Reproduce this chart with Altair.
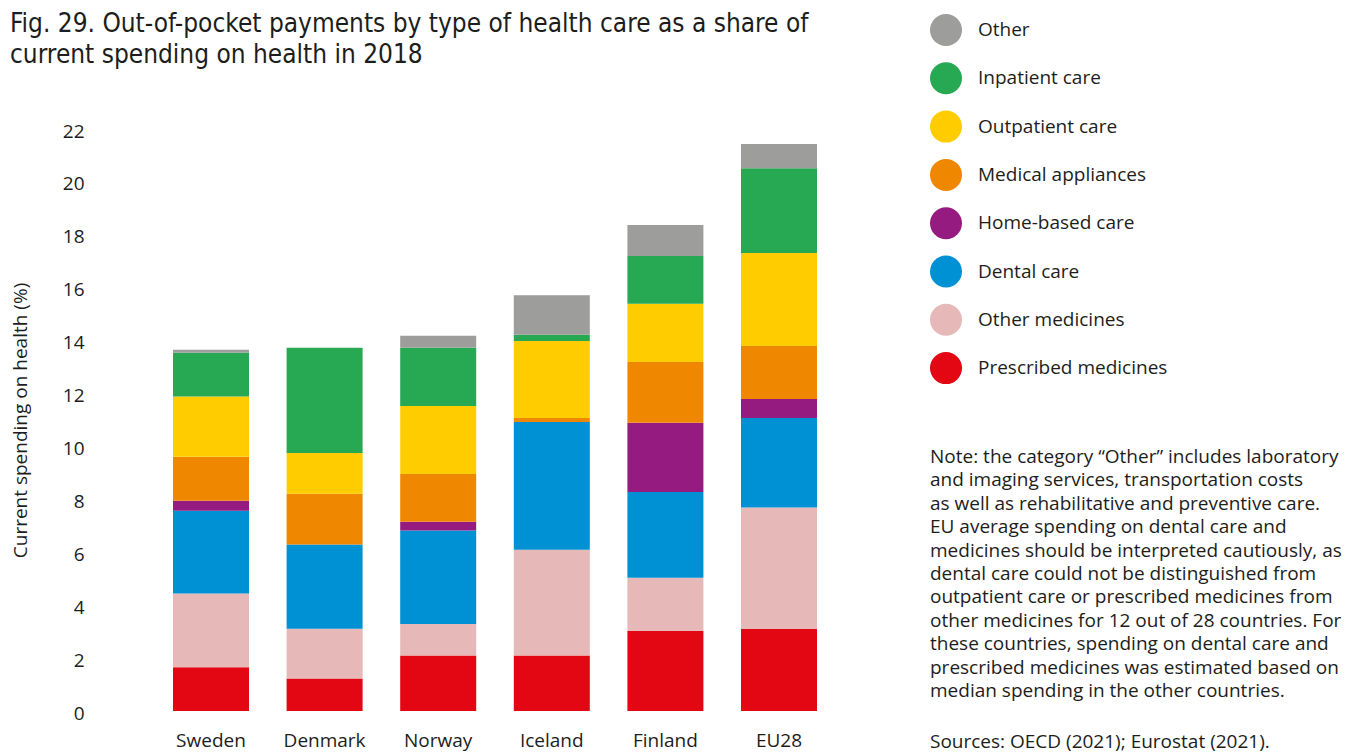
import altair as alt
import pandas as pd

countries = ["Sweden", "Denmark", "Norway", "Iceland", "Finland", "EU28"]
categories = ["Other", "Inpatient care", "Outpatient care", "Medical appliances",
              "Home-based care", "Dental care", "Other medicines", "Prescribed medicines"]
colors = ["#9D9D9C", "#27A852", "#FFCC00", "#F08700",
          "#951B81", "#0090D4", "#E6B8B7", "#E30613"]

prescribed = [1.65, 1.23, 2.10, 2.10, 3.03, 3.11]
other_medicines = [2.79, 1.88, 1.19, 4.00, 2.01, 4.58]
dental = [3.13, 3.18, 3.53, 4.82, 3.24, 3.39]
home_based = [0.38, 0.00, 0.33, 0.00, 2.62, 0.71]
appliances = [1.66, 1.92, 1.81, 0.16, 2.29, 2.01]
outpatient = [2.28, 1.54, 2.57, 2.91, 2.20, 3.51]
inpatient = [1.65, 3.98, 2.20, 0.23, 1.81, 3.21]
other = [0.12, 0.00, 0.45, 1.50, 1.17, 0.91]

title_lines = ["Fig. 29. Out-of-pocket payments by type of health care as a share of",
               "current spending on health in 2018"]
note_lines = [
    "Note: the category \u201cOther\u201d includes laboratory",
    "and imaging services, transportation costs",
    "as well as rehabilitative and preventive care.",
    "EU average spending on dental care and",
    "medicines should be interpreted cautiously, as",
    "dental care could not be distinguished from",
    "outpatient care or prescribed medicines from",
    "other medicines for 12 out of 28 countries. For",
    "these countries, spending on dental care and",
    "prescribed medicines was estimated based on",
    "median spending in the other countries.",
]
source_line = "Sources: OECD (2021); Eurostat (2021)."

series = {
    "Prescribed medicines": prescribed,
    "Other medicines": other_medicines,
    "Dental care": dental,
    "Home-based care": home_based,
    "Medical appliances": appliances,
    "Outpatient care": outpatient,
    "Inpatient care": inpatient,
    "Other": other,
}
rows = []
for k, (cat, vals) in enumerate(series.items()):
    for c, v in zip(countries, vals):
        rows.append({"country": c, "category": cat, "value": v, "stack_order": k})
df = pd.DataFrame(rows)

FONT = "Open Sans"
TITLE_FONT = "DejaVu Sans Condensed, Roboto, sans-serif"
TXT = "#1d1d1b"

bars = alt.Chart(df).mark_bar().encode(
    x=alt.X("country:N", sort=countries,
            scale=alt.Scale(paddingInner=0.331, paddingOuter=0.713),
            axis=alt.Axis(title=None, labelAngle=0, domain=False, ticks=False,
                          labelFontSize=19, labelPadding=20, labelFont=FONT,
                          labelColor=TXT)),
    y=alt.Y("value:Q", stack="zero",
            scale=alt.Scale(domain=[0, 22], nice=False),
            axis=alt.Axis(values=list(range(0, 23, 2)), grid=False, domain=False,
                          ticks=False, labelFontSize=19, labelPadding=8, labelOffset=2,
                          labelFont=FONT, labelColor=TXT,
                          title="Current spending on health (%)",
                          titleFont=FONT, titleFontSize=19, titleFontWeight="normal",
                          titleColor=TXT, titleX=-72, titleY=291, titleAngle=-90,
                          titleAlign="center", titleBaseline="middle")),
    color=alt.Color("category:N",
                    scale=alt.Scale(domain=categories, range=colors),
                    legend=alt.Legend(title=None, orient="none", legendX=838, legendY=-115,
                                      symbolType="circle", symbolSize=1024,
                                      symbolStrokeWidth=0, symbolOpacity=1,
                                      labelFontSize=19, labelFont=FONT, labelColor=TXT,
                                      labelLimit=400,
                                      rowPadding=16.3, labelOffset=16, padding=0)),
    order=alt.Order("stack_order:Q", sort="ascending"),
)

dummy = pd.DataFrame({"d": [0]})
title = alt.Chart(dummy).mark_text(
    text=title_lines, align="left", baseline="alphabetic",
    font=TITLE_FONT, fontSize=26, lineHeight=31, color=TXT,
).encode(x=alt.value(-82), y=alt.value(-97))

notes = alt.Chart(dummy).mark_text(
    text=note_lines, align="left", baseline="alphabetic",
    font=FONT, fontSize=19, lineHeight=23.4, color=TXT,
).encode(x=alt.value(838), y=alt.value(334))

sources = alt.Chart(dummy).mark_text(
    text=source_line, align="left", baseline="alphabetic",
    font=FONT, fontSize=19, color=TXT,
).encode(x=alt.value(838), y=alt.value(619))

chart = alt.layer(bars, title, notes, sources).properties(
    width=806, height=582,
    autosize=alt.AutoSizeParams(type="none"),
    padding={"left": 84, "top": 121, "right": 458, "bottom": 44},
).configure_view(stroke=None)

chart.save("out.html", embed_options={"renderer": "svg", "actions": False})
